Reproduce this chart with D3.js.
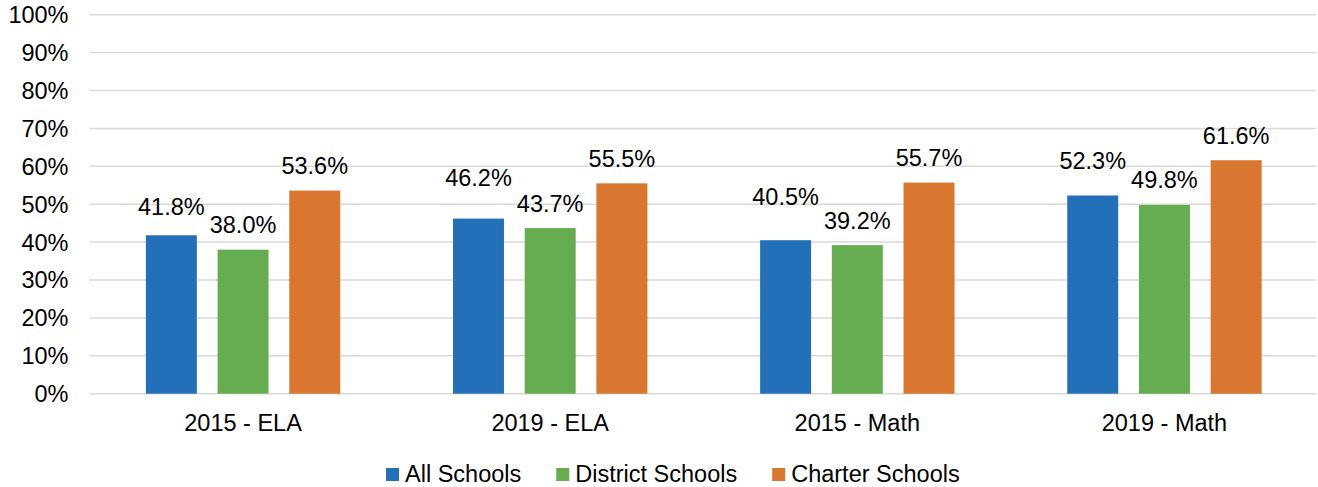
<!DOCTYPE html>
<html>
<head>
<meta charset="utf-8">
<script src="https://cdn.jsdelivr.net/npm/d3@7"></script>
<style>
    html, body { margin: 0; padding: 0; background: #fff; }
    svg { display: block; font-family: Arial, "Liberation Sans", sans-serif; }
</style>
</head>
<body>
<svg id="chart" width="1318" height="487"></svg>
<script>
// chart data
var categories = ['2015 - ELA', '2019 - ELA', '2015 - Math', '2019 - Math'];
var seriesNames = ['All Schools', 'District Schools', 'Charter Schools'];
var allSchools = [41.8, 46.2, 40.5, 52.3];
var districtSchools = [38.0, 43.7, 39.2, 49.8];
var charterSchools = [53.6, 55.5, 55.7, 61.6];
var yTicks = [0, 10, 20, 30, 40, 50, 60, 70, 80, 90, 100];

// layout / style
var colors = ['#2370b9', '#66ad52', '#d9762f'];
var plotLeft = 89.5, plotRight = 1318, plotTop = 14.7, plotBottom = 393.7;
var fontSize = '23.5px';
// the "All Schools" labels were dragged up a bit in the original so they don't collide
var labelLift = [[4, 0, 0], [16, 0, 0], [18.5, 0, 0], [9.5, 0, 0]];

var values = [allSchools, districtSchools, charterSchools];
var rows = categories.map(function(c, i) {
    return { cat: c, i: i, vals: values.map(function(v, s) { return { s: s, v: v[i] }; }) };
});

var svg = d3.select('#chart');

var x0 = d3.scaleBand().domain(categories).range([plotLeft, plotRight]);
var bw = x0.bandwidth(), inner = 194.4;
var x1 = d3.scaleBand().domain(d3.range(seriesNames.length))
    .range([(bw - inner) / 2, (bw + inner) / 2])
    .paddingInner(0.289);
var y = d3.scaleLinear().domain([0, 100]).range([plotBottom, plotTop]);

// gridlines
svg.append('g').selectAll('line')
    .data(yTicks)
    .enter().append('line')
    .attr('x1', plotLeft).attr('x2', plotRight - 2)
    .attr('y1', function(d) { return y(d); })
    .attr('y2', function(d) { return y(d); })
    .attr('stroke', '#d9d9d9')
    .attr('stroke-width', 1.5);

// y axis labels
svg.append('g').selectAll('text')
    .data(yTicks)
    .enter().append('text')
    .attr('x', 68.5)
    .attr('y', function(d) { return y(d); })
    .attr('dy', '0.36em')
    .attr('text-anchor', 'end')
    .style('font-size', fontSize)
    .attr('fill', '#000')
    .text(function(d) { return d + '%'; });

// bars
var group = svg.append('g').selectAll('g')
    .data(rows)
    .enter().append('g')
    .attr('transform', function(d) { return 'translate(' + x0(d.cat) + ',0)'; });

group.selectAll('rect')
    .data(function(d) { return d.vals; })
    .enter().append('rect')
    .attr('x', function(d) { return x1(d.s); })
    .attr('width', x1.bandwidth())
    .attr('y', function(d) { return y(d.v); })
    .attr('height', function(d) { return plotBottom - y(d.v); })
    .attr('fill', function(d) { return colors[d.s]; });

// value labels
group.each(function(row) {
    d3.select(this).selectAll('text')
        .data(row.vals)
        .enter().append('text')
        .attr('x', function(d) { return x1(d.s) + x1.bandwidth() / 2; })
        .attr('y', function(d) { return y(d.v) - 16.5 - labelLift[row.i][d.s]; })
        .attr('text-anchor', 'middle')
        .style('font-size', fontSize)
        .attr('fill', '#000')
        .text(function(d) { return d.v.toFixed(1) + '%'; });
});

// category labels
svg.append('g').selectAll('text')
    .data(categories)
    .enter().append('text')
    .attr('x', function(d) { return x0(d) + bw / 2; })
    .attr('y', 431)
    .attr('text-anchor', 'middle')
    .style('font-size', fontSize)
    .attr('fill', '#000')
    .text(function(d) { return d; });

// legend
var legend = svg.append('g').attr('transform', 'translate(386,0)');
var lx = 0;
seriesNames.forEach(function(name, s) {
    legend.append('rect')
        .attr('x', lx).attr('y', 468)
        .attr('width', 13).attr('height', 13)
        .attr('fill', colors[s]);
    var t = legend.append('text')
        .attr('x', lx + 19).attr('y', 481.7)
        .style('font-size', fontSize)
        .attr('fill', '#000')
        .text(name);
    lx += 19 + t.node().getComputedTextLength() + 35;
});
</script>
</body>
</html>
